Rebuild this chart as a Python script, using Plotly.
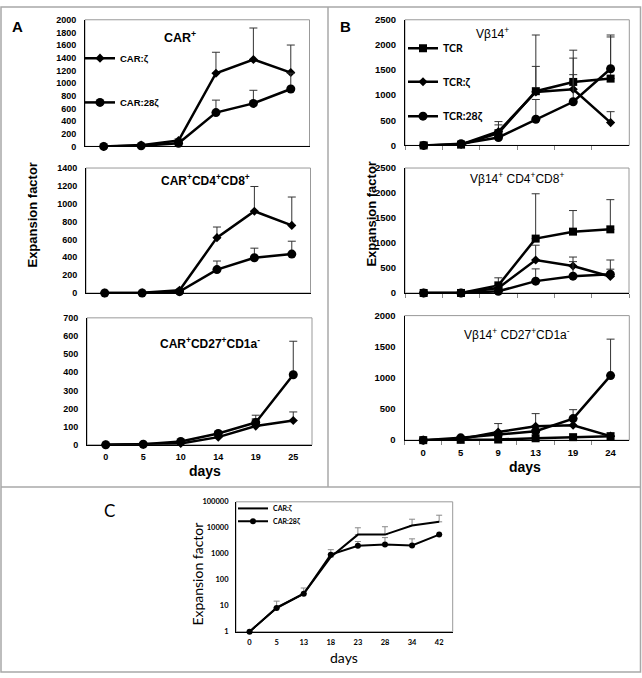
import plotly.graph_objects as go

# ---------------- data ----------------
A_days = ["0", "5", "10", "14", "19", "25"]
A1_car_z = [0, 20, 93, 1155, 1373, 1166]
A1_car_z_err = [0, 5, 25, 332, 497, 435]
A1_car_28z = [0, 10, 50, 534, 679, 907]
A1_car_28z_err = [0, 3, 10, 197, 207, 250]

A2_car_z = [0, 2, 30, 620, 916, 757]
A2_car_z_err = [0, 0, 5, 119, 277, 318]
A2_car_28z = [0, 0, 15, 262, 395, 436]
A2_car_28z_err = [0, 0, 3, 96, 107, 144]

A3_car_z = [0, 2, 7, 42, 103, 134]
A3_car_z_err = [0, 0, 2, 8, 40, 47]
A3_car_28z = [0, 3, 18, 62, 123, 386]
A3_car_28z_err = [0, 1, 4, 10, 40, 185]

B_days = ["0", "5", "9", "13", "19", "24"]
B1_tcr = [0, 15, 243, 1079, 1263, 1329]
B1_tcr_err = [0, 5, 231, 1118, 632, 829]
B1_tcr_z = [0, 20, 276, 1065, 1118, 454]
B1_tcr_z_err = [0, 5, 132, 507, 619, 217]
B1_tcr_28z = [0, 35, 158, 520, 868, 1526]
B1_tcr_28z_err = [0, 10, 40, 394, 540, 671]

B2_tcr = [0, 0, 152, 1088, 1227, 1273]
B2_tcr_err = [0, 0, 151, 897, 422, 594]
B2_tcr_z = [0, 0, 99, 660, 541, 330]
B2_tcr_z_err = [0, 0, 30, 296, 178, 330]
B2_tcr_28z = [0, 0, 33, 237, 336, 376]
B2_tcr_28z_err = [0, 0, 10, 245, 291, 100]

B3_tcr = [0, 5, 10, 30, 48, 64]
B3_tcr_err = [0, 0, 0, 0, 0, 0]
B3_tcr_z = [0, 20, 130, 223, 239, 64]
B3_tcr_z_err = [0, 0, 136, 203, 0, 0]
B3_tcr_28z = [0, 37, 90, 144, 346, 1037]
B3_tcr_28z_err = [0, 0, 0, 0, 143, 585]

C_days = ["0", "5", "13", "18", "23", "28", "34", "42"]
C_car_z = [1, 8.4, 29, 756, 5460, 5460, 12300, 17000]
C_car_z_err = [0, 6.6, 19, 681, 4540, 5540, 9100, 13500]
C_car_28z = [1, 8.1, 29, 926, 2030, 2290, 2100, 5460]
C_car_28z_err = [0, 0, 0, 0, 930, 1900, 1650, 0]

C_ticks = [1, 10, 100, 1000, 10000, 100000]
C_ticktext = ["1", "10", "100", "1000", "10000", "100000"]

# ---------------- layout helpers ----------------
W, H = 642, 678
def px(x):
    return x / W
def py(y):
    return 1 - y / H

ARIAL = "Liberation Sans, Arial, sans-serif"
CAL = "Lato, Open Sans, sans-serif"

fig = go.Figure()

def series(n, cats, vals, err, symbol, size, name, legend=None, lw=2.5,
           ecolor="#333333", ewidth=4, mode="lines+markers"):
    fig.add_trace(go.Scatter(
        x=cats, y=vals, name=name, mode=mode,
        xaxis="x%d" % n if n > 1 else "x", yaxis="y%d" % n if n > 1 else "y",
        line=dict(color="black", width=lw),
        marker=dict(symbol=symbol, size=size, color="black"),
        error_y=dict(type="data", symmetric=False, array=err,
                     arrayminus=[0] * len(err), color=ecolor, thickness=1, width=ewidth),
        cliponaxis=False,
        showlegend=legend is not None,
        legend=legend if legend else "legend",
    ))

# Panel A
series(1, A_days, A1_car_z, A1_car_z_err, "diamond", 7, "CAR:ζ", legend="legend")
series(1, A_days, A1_car_28z, A1_car_28z_err, "circle", 9, "CAR:28ζ", legend="legend2")
series(2, A_days, A2_car_z, A2_car_z_err, "diamond", 7, "CAR:ζ")
series(2, A_days, A2_car_28z, A2_car_28z_err, "circle", 9, "CAR:28ζ")
series(3, A_days, A3_car_z, A3_car_z_err, "diamond", 7, "CAR:ζ")
series(3, A_days, A3_car_28z, A3_car_28z_err, "circle", 9, "CAR:28ζ")
# Panel B
series(4, B_days, B1_tcr, B1_tcr_err, "square", 8, "TCR", legend="legend3")
series(4, B_days, B1_tcr_z, B1_tcr_z_err, "diamond", 7, "TCR:ζ", legend="legend4")
series(4, B_days, B1_tcr_28z, B1_tcr_28z_err, "circle", 9, "TCR:28ζ", legend="legend5")
series(5, B_days, B2_tcr, B2_tcr_err, "square", 8, "TCR")
series(5, B_days, B2_tcr_z, B2_tcr_z_err, "diamond", 7, "TCR:ζ")
series(5, B_days, B2_tcr_28z, B2_tcr_28z_err, "circle", 9, "TCR:28ζ")
series(6, B_days, B3_tcr, B3_tcr_err, "square", 8, "TCR")
series(6, B_days, B3_tcr_z, B3_tcr_z_err, "diamond", 7, "TCR:ζ")
series(6, B_days, B3_tcr_28z, B3_tcr_28z_err, "circle", 9, "TCR:28ζ")
# Panel C
series(7, C_days, C_car_z, C_car_z_err, "circle", 6, "CAR:ζ", legend="legend6",
       lw=2, ecolor="#888888", ewidth=3, mode="lines")
series(7, C_days, C_car_28z, C_car_28z_err, "circle", 6, "CAR:28ζ", legend="legend7",
       lw=2, ecolor="#888888", ewidth=3)

# subplot boxes (pixel coordinates of plot areas)
boxes = {
    1: (85, 309.5, 14, 142.7),
    2: (86, 310.5, 164.7, 291.7),
    3: (87, 312, 317, 446),
    4: (405, 629.3, 14, 141.7),
    5: (405, 629, 164.7, 291.7),
    6: (404.5, 629.3, 314.7, 441.3),
    7: (236, 452.7, 504, 636),
}
yr = {1: (2000, 200), 2: (1400, 200), 3: (700, 100), 4: (2500, 500), 5: (2500, 500), 6: (2000, 500)}

layout = dict(width=W, height=H, margin=dict(l=0, r=0, t=0, b=0),
              paper_bgcolor="white", plot_bgcolor="white", hovermode=False)
shapes = []
for n, (x0, x1, y0, y1) in boxes.items():
    xs = "xaxis" if n == 1 else "xaxis%d" % n
    ys = "yaxis" if n == 1 else "yaxis%d" % n
    xa = "x" if n == 1 else "x%d" % n
    ya = "y" if n == 1 else "y%d" % n
    ncat = 8 if n == 7 else 6
    bottom = n in (3, 6, 7)
    is_b = n in (4, 5, 6)
    if n == 7:
        tf = dict(family=CAL, size=7.5, color="black", weight="bold")
    elif is_b:
        tf = dict(family=ARIAL, size=9.5, color="black", weight="bold")
    else:
        tf = dict(family=ARIAL, size=9, color="black", weight="bold")
    layout[xs] = dict(domain=[px(x0), px(x1)], anchor=ya, type="category",
                      range=[-0.5, ncat - 0.5], showline=True, linecolor="black",
                      linewidth=1, showgrid=False, zeroline=False,
                      showticklabels=bottom, tickfont=tf, ticklabelstandoff=3,
                      ticks="outside" if is_b else "", tickson="boundaries",
                      ticklen=4, tickcolor="#888888", fixedrange=True)
    if n == 7:
        layout[ys] = dict(domain=[py(y1), py(y0)], anchor=xa, type="log", range=[0, 5],
                          tickvals=C_ticks, ticktext=C_ticktext, showline=True,
                          linecolor="black", linewidth=1, showgrid=False, zeroline=False,
                          tickfont=tf, ticklabelstandoff=5, ticks="")
    else:
        top, dt = yr[n]
        layout[ys] = dict(domain=[py(y1), py(y0)], anchor=xa, range=[0, top], dtick=dt,
                          showline=True, linecolor="black", linewidth=1, showgrid=False,
                          zeroline=False, tickfont=tf, ticklabelstandoff=6, ticks="")
    shapes.append(dict(type="rect", xref="%s domain" % xa, yref="%s domain" % ya,
                       x0=0, x1=1, y0=0, y1=1, line=dict(color="#999999", width=1),
                       layer="below"))

# panel frames
frame = dict(color="#a8a8a8", width=1.5)
shapes.append(dict(type="rect", xref="paper", yref="paper", x0=px(1), x1=px(640.5),
                   y0=py(677), y1=py(1), line=frame))
shapes.append(dict(type="line", xref="paper", yref="paper", x0=px(328), x1=px(328),
                   y0=py(489), y1=py(1), line=frame))
shapes.append(dict(type="line", xref="paper", yref="paper", x0=px(1), x1=px(640.5),
                   y0=py(489), y1=py(489), line=frame))
layout["shapes"] = shapes

def leg(x, y, size, fam):
    return dict(x=px(x), y=py(y), xanchor="left", yanchor="middle", bgcolor="rgba(0,0,0,0)",
                borderwidth=0, font=dict(family=fam, size=size, color="black", weight="bold"),
                itemclick=False, itemdoubleclick=False)

layout["legend"] = leg(80, 53, 9.5, ARIAL)
layout["legend2"] = leg(80, 98, 9.5, ARIAL)
layout["legend3"] = leg(403, 43, 10.5, CAL)
layout["legend4"] = leg(403, 77, 10.5, CAL)
layout["legend5"] = leg(403, 112, 10.5, CAL)
layout["legend6"] = leg(233, 510.7, 7, CAL)
layout["legend7"] = leg(233, 523.7, 7, CAL)

ann = []
def text(x, y, t, size, fam, bold=True, angle=0):
    ann.append(dict(xref="paper", yref="paper", x=px(x), y=py(y), text=t, showarrow=False,
                    xanchor="center", yanchor="middle", textangle=angle,
                    font=dict(family=fam, size=size, color="black",
                              weight="bold" if bold else "normal")))

text(17, 21, "A", 15, ARIAL)
text(346, 21, "B", 15, ARIAL)
text(109, 513, "C", 17, CAL, bold=False)

text(180, 32, "CAR<sup>+</sup>", 12.5, ARIAL)
text(205, 177, "CAR<sup>+</sup>CD4<sup>+</sup>CD8<sup>+</sup>", 12, ARIAL)
text(210, 343, "CAR<sup>+</sup>CD27<sup>+</sup>CD1a<sup>-</sup>", 12, ARIAL)
text(492, 27, "Vβ14<sup>+</sup>", 12, ARIAL, bold=False)
text(517, 175, "Vβ14<sup>+</sup> CD4<sup>+</sup>CD8<sup>+</sup>", 12, ARIAL, bold=False)
text(517, 333, "Vβ14<sup>+</sup> CD27<sup>+</sup>CD1a<sup>-</sup>", 12, ARIAL, bold=False)

text(33, 213, "Expansion factor", 13, ARIAL, angle=-90)
text(372, 211, "Expansion factor", 13, ARIAL, angle=-90)
text(198, 578, "Expansion factor", 14, CAL, bold=False, angle=-90)

text(205, 473, "days", 14, ARIAL)
text(525, 469, "days", 14, ARIAL)
text(344, 662, "days", 14, CAL, bold=False)
layout["annotations"] = ann

fig.update_layout(**layout)
fig.write_html("out.html", config={"displayModeBar": False, "staticPlot": True},
               post_script="document.body.style.margin='0';document.body.style.overflow='hidden';")
